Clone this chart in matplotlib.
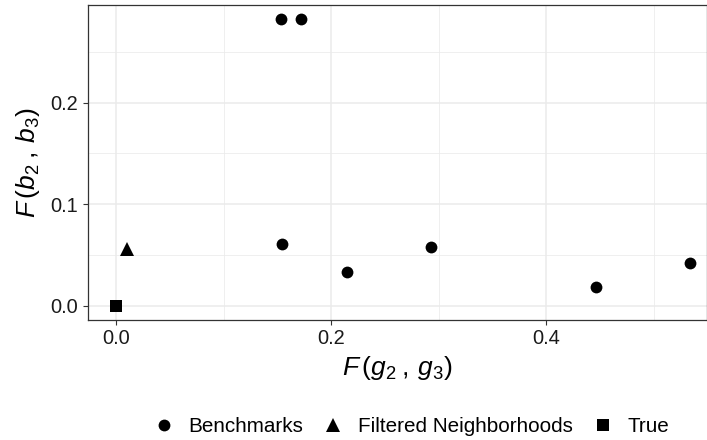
import matplotlib
matplotlib.use("Agg")
import matplotlib.pyplot as plt
from matplotlib.lines import Line2D

plt.rcParams['font.family'] = ['Liberation Sans', 'DejaVu Sans']
plt.rcParams['mathtext.fontset'] = 'custom'
plt.rcParams['mathtext.rm'] = 'Liberation Sans'
plt.rcParams['mathtext.it'] = 'Liberation Sans:italic'

# Data
bench_x = [0.1532, 0.1721, 0.1544, 0.2149, 0.2927, 0.4465, 0.5333]
bench_y = [0.2822, 0.2822, 0.0605, 0.0329, 0.0575, 0.0181, 0.0421]
filt_x = [0.0099]
filt_y = [0.0560]
true_x = [0.0]
true_y = [0.0]
labels = ["Benchmarks", "Filtered Neighborhoods", "True"]
x_ticks = [0.0, 0.2, 0.4]
y_ticks = [0.0, 0.1, 0.2]

fig = plt.figure(figsize=(7.07, 4.40), dpi=100)
ax = fig.add_axes([0.1238, 0.2727, 0.8755, 0.7153])

ax.set_xlim(-0.0267, 0.549)
ax.set_ylim(-0.0141, 0.296)

ax.set_xticks(x_ticks)
ax.set_yticks(y_ticks)
ax.set_xticklabels([f"{v:.1f}" for v in x_ticks])
ax.set_yticklabels([f"{v:.1f}" for v in y_ticks])
ax.set_xticks([0.1, 0.3, 0.5], minor=True)
ax.set_yticks([0.05, 0.15, 0.25], minor=True)

ax.grid(which='major', color='#EBEBEB', lw=1.1)
ax.grid(which='minor', color='#EBEBEB', lw=0.55)
ax.set_axisbelow(True)
ax.tick_params(which='major', direction='out', length=3.5, width=0.8, color='#333333',
               labelsize=14.4, labelcolor='#1a1a1a', pad=3)
ax.tick_params(which='minor', length=0)
for s in ax.spines.values():
    s.set_color('#333333')
    s.set_linewidth(0.9)

ax.plot(bench_x, bench_y, 'o', color='black', ms=8.5, mew=0, zorder=3)
ax.plot(filt_x, filt_y, '^', color='black', ms=10, mew=0, zorder=3)
ax.plot(true_x, true_y, 's', color='black', ms=8.5, mew=0, zorder=3)

ax.set_xlabel(r'$F\,(g_2\:,\:g_3)$', fontsize=19, labelpad=4)
ax.set_ylabel(r'$F\,(b_2\:,\:b_3)$', fontsize=19, labelpad=6)

handles = [
    Line2D([], [], marker='o', ls='', color='black', ms=8.5, mew=0),
    Line2D([], [], marker='^', ls='', color='black', ms=10, mew=0),
    Line2D([], [], marker='s', ls='', color='black', ms=8.5, mew=0),
]
fig.legend(handles, labels, loc='center', bbox_to_anchor=(0.582, 0.031), ncol=3,
           frameon=False, fontsize=14.9, handlelength=1.0, handletextpad=0.7,
           columnspacing=0.95, borderaxespad=0)

fig.savefig('out.png', dpi=100)
